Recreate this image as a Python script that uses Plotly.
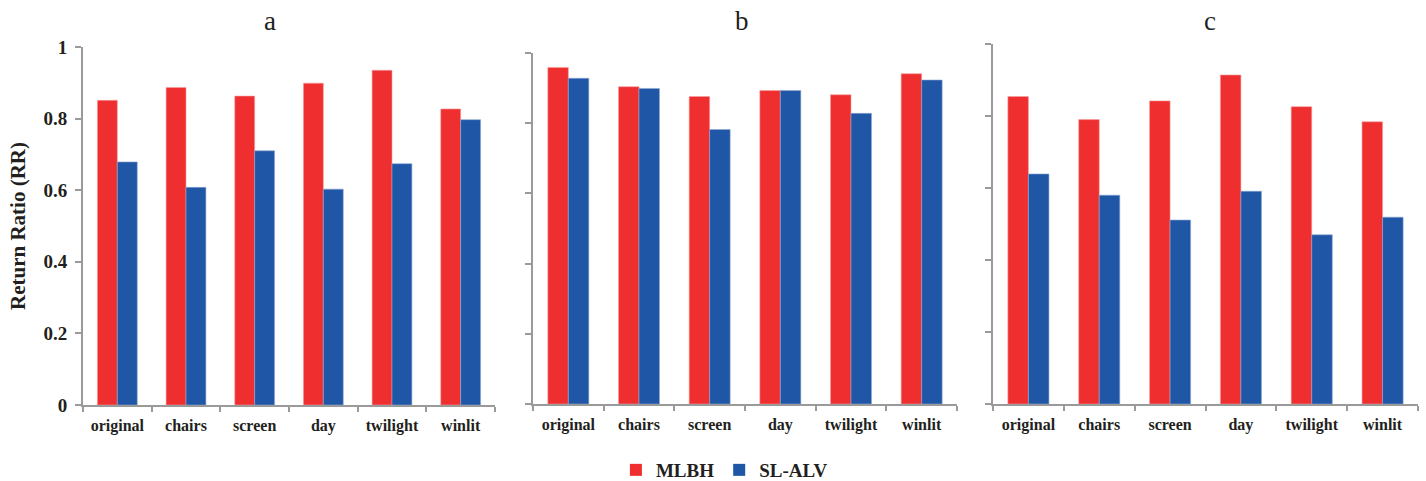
import plotly.graph_objects as go

# Return ratio per scene variant, three experiments (a, b, c)
categories = ["original", "chairs", "screen", "day", "twilight", "winlit"]
panel_titles = ["a", "b", "c"]

mlbh_a = [0.851, 0.887, 0.863, 0.899, 0.935, 0.827]
slalv_a = [0.679, 0.608, 0.710, 0.603, 0.674, 0.797]

mlbh_b = [0.959, 0.904, 0.876, 0.893, 0.881, 0.941]
slalv_b = [0.928, 0.899, 0.782, 0.893, 0.828, 0.923]

mlbh_c = [0.854, 0.790, 0.842, 0.914, 0.826, 0.784]
slalv_c = [0.639, 0.580, 0.511, 0.591, 0.470, 0.519]

y_ticks = [0, 0.2, 0.4, 0.6, 0.8, 1]
y_tick_labels = ["0", "0.2", "0.4", "0.6", "0.8", "1"]

RED = "#EE2E2F"
BLUE = "#1F56A5"
AXIS = "#9A9A9A"
TEXT = "#231F20"
FONT = "Liberation Serif, Times New Roman, serif"

W, H = 1426, 481

# panel placement in pixels: (x_left, x_right, y_zero, y_one, title_x)
panels_px = [(83, 495, 405, 47, 270), (533, 957, 404, 53, 742), (993, 1418, 404, 44, 1210)]

series = [(mlbh_a, slalv_a), (mlbh_b, slalv_b), (mlbh_c, slalv_c)]

fig = go.Figure()
layout = dict(
    width=W, height=H,
    margin=dict(l=0, r=0, t=0, b=0, autoexpand=False),
    paper_bgcolor="white", plot_bgcolor="white",
    barmode="group", bargap=0.42, bargroupgap=0.0,
    font=dict(family=FONT, color=TEXT),
    showlegend=True,
    legend=dict(orientation="h", x=0.508, xanchor="center",
                yref="container", y=(H - 470) / H, yanchor="middle",
                font=dict(family=FONT, size=19, weight="bold", color=TEXT),
                itemwidth=30, traceorder="normal", tracegroupgap=0),
    annotations=[],
)

for i, ((mlbh, slalv), (xl, xr, y0, y1, tx)) in enumerate(zip(series, panels_px)):
    n = "" if i == 0 else str(i + 1)
    xa, ya = "x" + n, "y" + n
    fig.add_trace(go.Bar(x=categories, y=mlbh, name="MLBH", xaxis=xa, yaxis=ya,
                         marker=dict(color=RED, line=dict(color="#F6A0A0", width=0.6)),
                         showlegend=False))
    fig.add_trace(go.Bar(x=categories, y=slalv, name="SL-ALV", xaxis=xa, yaxis=ya,
                         marker=dict(color=BLUE, line=dict(color="#8FA8D4", width=0.6)),
                         showlegend=False))
    layout["xaxis" + n] = dict(
        domain=[xl / W, xr / W], anchor=ya, automargin=False,
        type="category", range=[-0.5, 5.5],
        showline=True, linecolor=AXIS, linewidth=2,
        ticks="outside", ticklen=5, tickwidth=1.5, tickcolor=AXIS,
        tickson="boundaries", showgrid=False, zeroline=False,
        ticklabelstandoff=5,
        tickfont=dict(family=FONT, size=16, weight="bold", color=TEXT),
    )
    layout["yaxis" + n] = dict(
        domain=[(H - y0) / H, (H - y1) / H], anchor=xa, automargin=False,
        range=[0, 1], tickvals=y_ticks,
        ticktext=y_tick_labels if i == 0 else [""] * len(y_ticks),
        showticklabels=(i == 0),
        showline=True, linecolor=AXIS, linewidth=2,
        ticks="outside", ticklen=6, tickwidth=1.5, tickcolor=AXIS,
        showgrid=False, zeroline=False,
        ticklabelstandoff=4,
        tickfont=dict(family=FONT, size=19, weight="bold", color=TEXT),
        title=dict(text="Return Ratio (RR)" if i == 0 else "",
                   font=dict(family=FONT, size=21, weight="bold", color=TEXT),
                   standoff=12),
    )
    layout["annotations"].append(dict(
        text=panel_titles[i], xref="paper", yref="paper",
        x=tx / W, y=(H - 21) / H, xanchor="center", yanchor="middle",
        showarrow=False, font=dict(family=FONT, size=27, color=TEXT),
    ))

# legend entries with square swatches
fig.add_trace(go.Scatter(x=[None], y=[None], mode="markers", name="MLBH",
                         marker=dict(symbol="square", size=12, color=RED)))
fig.add_trace(go.Scatter(x=[None], y=[None], mode="markers", name="SL-ALV",
                         marker=dict(symbol="square", size=12, color=BLUE)))

fig.update_layout(**layout)
fig.write_html("out.html")
